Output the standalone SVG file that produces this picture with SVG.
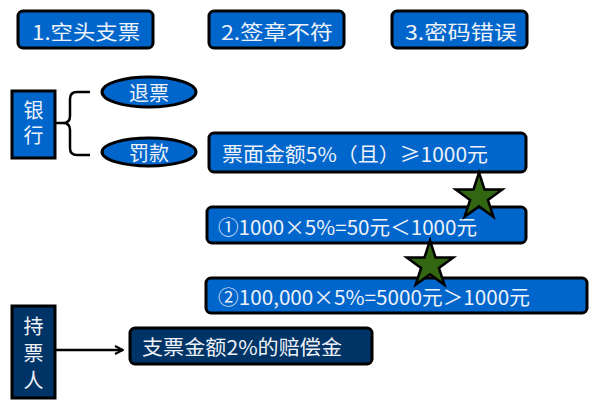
<svg xmlns="http://www.w3.org/2000/svg" width="594" height="400" viewBox="0 0 594 400">
<defs>
<style>
.b{fill:#0066cc;stroke:#000;stroke-width:3}
.d{fill:#003366;stroke:#000;stroke-width:3}
.t{font-family:"Noto Sans CJK SC","Noto Sans",sans-serif;font-size:20px;fill:#eef2f8;dominant-baseline:central}
.v{font-family:"Noto Sans CJK SC","Noto Sans",sans-serif;font-size:20px;fill:#eef2f8;text-anchor:middle;writing-mode:vertical-rl}
.m{text-anchor:middle}
.star{fill:#336611;stroke:#000;stroke-width:2.5;stroke-linejoin:miter}
.ln{fill:none;stroke:#000;stroke-width:2.5}
</style>
<marker id="ah" viewBox="0 0 10 10" refX="9" refY="5" markerWidth="10" markerHeight="10" markerUnits="userSpaceOnUse" orient="auto">
<path d="M1,1 L9,5 L1,9" fill="none" stroke="#000" stroke-width="2"/>
</marker>
<polygon id="st" points="0,-24.5 5.5,-7.6 23.3,-7.6 8.9,2.9 14.4,19.8 0,9.4 -14.4,19.8 -8.9,2.9 -23.3,-7.6 -5.5,-7.6"/>
</defs>
<g id="n1"><rect class="b" x="18" y="11" width="135" height="37" rx="5"/><text class="t" x="32" y="31" textLength="108" lengthAdjust="spacingAndGlyphs">1.空头支票</text></g>
<g id="n2"><rect class="b" x="209" y="11" width="135" height="37" rx="5"/><text class="t" x="221" y="31" textLength="112" lengthAdjust="spacingAndGlyphs">2.签章不符</text></g>
<g id="n3"><rect class="b" x="392" y="11" width="135" height="37" rx="5"/><text class="t" x="405" y="31" textLength="112" lengthAdjust="spacingAndGlyphs">3.密码错误</text></g>
<g id="bank"><rect class="b" x="12" y="91" width="43" height="67"/><text class="v" x="33.5" y="100" text-anchor="start" style="text-anchor:start;letter-spacing:5px">银行</text></g>
<g id="tuipiao"><ellipse class="b" cx="149" cy="92" rx="47" ry="15"/><text class="t m" x="149" y="92">退票</text></g>
<g id="fakuan"><ellipse class="b" cx="149" cy="152" rx="47" ry="14"/><text class="t m" x="149" y="152">罚款</text></g>
<g id="nA"><rect class="b" x="209" y="133" width="317" height="39" rx="5"/><text class="t" x="222" y="153" textLength="266" lengthAdjust="spacingAndGlyphs">票面金额5%（且）≥1000元</text></g>
<g id="nB"><rect class="b" x="207" y="207" width="319" height="36" rx="5"/><text class="t" x="218" y="226" textLength="259" lengthAdjust="spacingAndGlyphs">①1000×5%=50元＜1000元</text></g>
<g id="nC"><rect class="b" x="206" y="278" width="381" height="35" rx="5"/><text class="t" x="218" y="296" textLength="312" lengthAdjust="spacingAndGlyphs">②100,000×5%=5000元＞1000元</text></g>
<g id="holder"><rect class="d" x="12" y="306" width="43" height="92"/><text class="v" x="33.5" y="316" style="text-anchor:start;letter-spacing:7px">持票人</text></g>
<g id="nD"><rect class="d" x="130" y="328" width="242" height="36" rx="5"/><text class="t" x="142" y="346" textLength="200" lengthAdjust="spacingAndGlyphs">支票金额2%的赔偿金</text></g>
<g id="connectors">
<path class="ln" d="M90,92 H77 Q70,92 70,99 V116 Q70,123 63,123 H55 M63,123 Q70,123 70,130 V148 Q70,155 77,155 H90"/>
<line class="ln" x1="55" y1="350" x2="123" y2="350" marker-end="url(#ah)"/>
<use href="#st" class="star" x="479" y="197"/>
<use href="#st" class="star" x="430" y="265"/>
</g>
</svg>
